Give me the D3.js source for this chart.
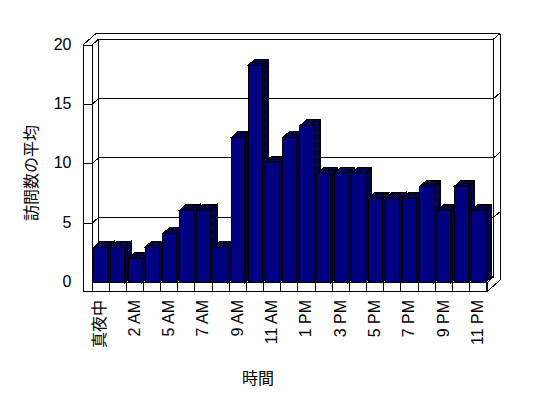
<!DOCTYPE html>
<html>
<head>
<meta charset="utf-8">
<script src="https://cdn.jsdelivr.net/npm/d3@7.9.0/dist/d3.min.js"></script>
<style>
  body { margin: 0; background: #fff; }
  svg { display: block; }
</style>
</head>
<body>
<div id="chart"></div>
<script>
// hours shown on the x axis (one hour is absent in the source)
const hours = ["真夜中", "1 AM", "2 AM", "3 AM", "5 AM", "6 AM", "7 AM", "8 AM", "9 AM", "10 AM",
  "11 AM", "12 PM", "1 PM", "2 PM", "3 PM", "4 PM", "5 PM", "6 PM", "7 PM", "8 PM", "9 PM", "10 PM", "11 PM"];
// average visits per hour
const visits = [3, 3, 2, 3, 4.1, 6.1, 6.1, 3, 12.2, 18.3, 10.1, 12.2, 13.2, 9.2, 9.2, 9.2,
  7.1, 7.1, 7.1, 8.1, 6.1, 8.1, 6.1];
const yTicks = [0, 5, 10, 15, 20];
const yTitle = "訪問数の平均";
const xTitle = "時間";

const W = 548, H = 398;
const svg = d3.select("#chart").append("svg")
  .attr("width", W).attr("height", H)
  .attr("shape-rendering", "crispEdges");

// checkered fill for the shaded faces
const pat = svg.append("defs").append("pattern")
  .attr("id", "dither").attr("width", 2).attr("height", 2)
  .attr("patternUnits", "userSpaceOnUse");
pat.append("rect").attr("width", 2).attr("height", 2).attr("fill", "#000");
pat.append("rect").attr("width", 1).attr("height", 1).attr("fill", "#000080");
pat.append("rect").attr("x", 1).attr("y", 1).attr("width", 1).attr("height", 1).attr("fill", "#000080");

const x = d3.scaleBand().domain(hours).range([92, 487]).paddingInner(0.19).paddingOuter(0.1);
const y = d3.scaleLinear().domain([0, 20]).range([282.7, 45]);

const dx = 6.7, dy = 6;       // depth of the plot box
const ox = 13, oy = 11.5;     // outer edge of the back wall / floor slab
const wall = 9, floorT = 9;   // slab thickness
const x0 = x.range()[0], x1 = x.range()[1];
const yTop = y(20), yBase = y(0);

const frame = svg.append("g").attr("fill", "none").attr("stroke", "#000").attr("stroke-width", 1);
const line = pts => frame.append("path").attr("d", d3.line()(pts));

// gridlines across the left wall and back wall
yTicks.filter(t => t > 0 && t < 20).forEach(t => {
  const yy = y(t);
  line([[x0 - wall, yy], [x0, yy], [x0 + dx, yy - dy], [x1 + dx, yy - dy], [x1 + ox, yy - oy]]);
});

// left wall
line([[x0 - wall, yTop], [x0 - wall, yBase + floorT]]);
line([[x0, yTop], [x0, yBase]]);
line([[x0 - wall, yTop], [x0, yTop]]);
line([[x0 - wall, yTop], [x0 - wall + ox, yTop - oy]]);
line([[x0, yTop], [x0 + dx, yTop - dy]]);
line([[x0 + dx, yTop - dy], [x0 + dx, yBase - dy]]);
// back wall
line([[x0 + dx, yTop - dy], [x1 + dx, yTop - dy]]);
line([[x0 - wall + ox, yTop - oy], [x1 + ox, yTop - oy]]);
line([[x1 + dx, yTop - dy], [x1 + dx, yBase - dy]]);
line([[x1 + ox, yTop - oy], [x1 + ox, yBase + floorT - oy]]);
line([[x1 + dx, yTop - dy], [x1 + ox, yTop - oy]]);
// floor
line([[x0 + dx, yBase - dy], [x1 + dx, yBase - dy]]);
line([[x0, yBase], [x1, yBase]]);
line([[x0 - wall, yBase + floorT], [x1, yBase + floorT]]);
line([[x1, yBase], [x1, yBase + floorT]]);
line([[x1, yBase], [x1 + dx, yBase - dy]]);
line([[x1, yBase + floorT], [x1 + ox, yBase + floorT - oy]]);
const step = x.step();
d3.range(hours.length + 1).forEach(i => {
  const xx = x0 + i * step;
  line([[xx, yBase], [xx, yBase + floorT]]);
});

// bars, drawn left to right so each front covers the previous side
const bars = svg.append("g").attr("stroke", "#000").attr("stroke-width", 1).attr("stroke-linejoin", "miter");
hours.forEach((h, i) => {
  const bx = x(h), bw = x.bandwidth(), by = y(visits[i]);
  const g = bars.append("g");
  g.append("polygon").attr("fill", "url(#dither)")
    .attr("points", [[bx + bw, by], [bx + bw + dx, by - dy], [bx + bw + dx, yBase - dy], [bx + bw, yBase]].join(" "));
  g.append("polygon").attr("fill", "url(#dither)")
    .attr("points", [[bx, by], [bx + bw, by], [bx + bw + dx, by - dy], [bx + dx, by - dy]].join(" "));
  g.append("rect").attr("fill", "#000080")
    .attr("x", bx).attr("y", by).attr("width", bw).attr("height", yBase - by);
});

// y tick labels
svg.append("g").selectAll("text").data(yTicks).join("text")
  .attr("x", 71.5).attr("y", d => y(d) - 1).attr("dy", "0.35em")
  .attr("text-anchor", "end")
  .style("font-family", "'Liberation Sans', Arial, sans-serif").style("font-size", "16px")
  .text(d => d);

// x tick labels, every other hour
svg.append("g").selectAll("text").data(hours.filter((d, i) => i % 2 === 0)).join("text")
  .attr("transform", d => `translate(${x(d) + x.bandwidth() / 2 - 1},300) rotate(-90)`)
  .attr("dy", "0.35em")
  .attr("text-anchor", "end")
  .style("font-family", "'Liberation Sans', 'Noto Sans CJK JP', sans-serif")
  .style("font-size", "16px")
  .text(d => d);

// axis titles
svg.append("text")
  .attr("transform", "translate(31,173) rotate(-90)")
  .attr("text-anchor", "middle").attr("dy", "0.35em")
  .style("font-family", "'Noto Sans CJK JP', sans-serif").style("font-size", "16px")
  .text(yTitle);
svg.append("text")
  .attr("x", 258).attr("y", 378)
  .attr("text-anchor", "middle").attr("dy", "0.35em")
  .style("font-family", "'Noto Sans CJK JP', sans-serif").style("font-size", "16px")
  .text(xTitle);
</script>
</body>
</html>
